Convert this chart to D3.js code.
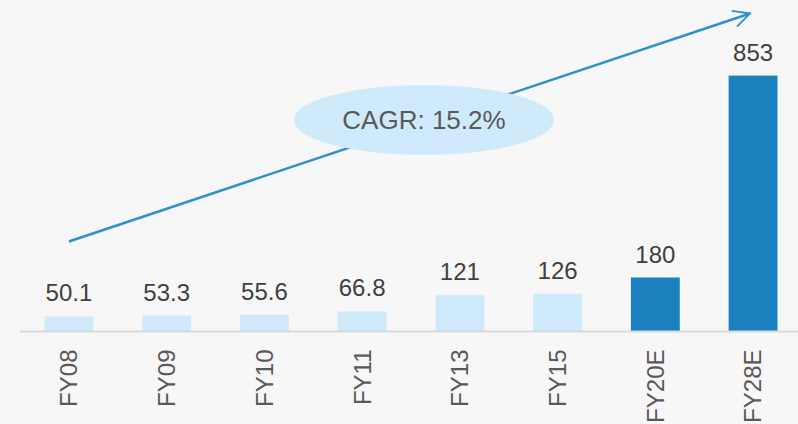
<!DOCTYPE html>
<html>
<head>
<meta charset="utf-8">
<script src="https://cdn.jsdelivr.net/npm/d3@7"></script>
<style>
  html, body { margin: 0; padding: 0; background: #f7f7f7; }
  svg { display: block; font-family: "Liberation Sans", Arial, sans-serif; }
</style>
</head>
<body>
<svg id="chart" width="798" height="424"></svg>
<script>
const years = ["FY08", "FY09", "FY10", "FY11", "FY13", "FY15", "FY20E", "FY28E"];
const values = [50.1, 53.3, 55.6, 66.8, 121, 126, 180, 853];
const valueLabels = ["50.1", "53.3", "55.6", "66.8", "121", "126", "180", "853"];
const estimated = [false, false, false, false, false, false, true, true];
const cagrText = "CAGR: 15.2%";

const svg = d3.select("#chart"),
  width = +svg.attr("width"),
  height = +svg.attr("height"),
  baseline = 331.5;

const x = d3.scaleBand()
  .domain(years)
  .range([23, 799])
  .paddingInner(0.5)
  .paddingOuter(0.22);

const y = d3.scaleLinear().domain([0, 900]).range([baseline, baseline - 270]);

// arrow marker (open chevron)
svg.append("defs").append("marker")
  .attr("id", "arrowhead")
  .attr("viewBox", "0 0 12 12")
  .attr("refX", 11).attr("refY", 6)
  .attr("markerWidth", 8).attr("markerHeight", 8)
  .attr("markerUnits", "strokeWidth")
  .attr("orient", "auto")
  .append("path")
  .attr("d", "M1,1 L11,6 L1,11")
  .attr("fill", "none")
  .attr("stroke", "#2e90cf")
  .attr("stroke-width", 1.1);

// bars
svg.selectAll(".bar")
  .data(years)
  .enter().append("rect")
  .attr("class", "bar")
  .attr("x", d => x(d))
  .attr("width", x.bandwidth())
  .attr("y", (d, i) => y(values[i]))
  .attr("height", (d, i) => baseline - y(values[i]))
  .attr("fill", (d, i) => estimated[i] ? "#1a81be" : "#cfebfb");

// value labels
svg.selectAll(".val")
  .data(years)
  .enter().append("text")
  .attr("class", "val")
  .attr("x", d => x(d) + x.bandwidth() / 2)
  .attr("y", (d, i) => y(values[i]) - 15)
  .attr("text-anchor", "middle")
  .attr("font-size", 24)
  .attr("fill", "#404040")
  .text((d, i) => valueLabels[i]);

// x axis
const xAxis = svg.append("g")
  .attr("transform", `translate(0,${baseline})`)
  .call(d3.axisBottom(x).tickSize(0).tickSizeOuter(0));
xAxis.select(".domain").attr("stroke", "#d9d9d9").attr("stroke-width", 2)
  .attr("d", `M20,0H${width}`);
xAxis.selectAll(".tick text")
  .attr("font-size", 24)
  .attr("font-family", "Liberation Sans, Arial, sans-serif")
  .attr("fill", "#595959")
  .attr("transform", "rotate(-90)")
  .attr("text-anchor", "end")
  .attr("x", -18)
  .attr("y", 0)
  .attr("dy", "0.35em");

// CAGR arrow
const first = years[0], last = years[years.length - 1];
svg.append("line")
  .attr("x1", x(first) + x.bandwidth() / 2)
  .attr("y1", y(300))
  .attr("x2", x(last) + x.bandwidth() / 2 - 3)
  .attr("y2", y(1060))
  .attr("stroke", "#2e90cf")
  .attr("stroke-width", 2.5)
  .attr("marker-end", "url(#arrowhead)");

// CAGR bubble
const bubbleX = (x("FY11") + x("FY13")) / 2 + x.bandwidth() / 2 + 13;
svg.append("ellipse")
  .attr("cx", bubbleX)
  .attr("cy", y(705))
  .attr("rx", 130)
  .attr("ry", 35)
  .attr("fill", "#cfebfb");

svg.append("text")
  .attr("x", bubbleX)
  .attr("y", y(705))
  .attr("dy", "0.35em")
  .attr("text-anchor", "middle")
  .attr("font-size", 26)
  .attr("fill", "#595959")
  .text(cagrText);
</script>
</body>
</html>
